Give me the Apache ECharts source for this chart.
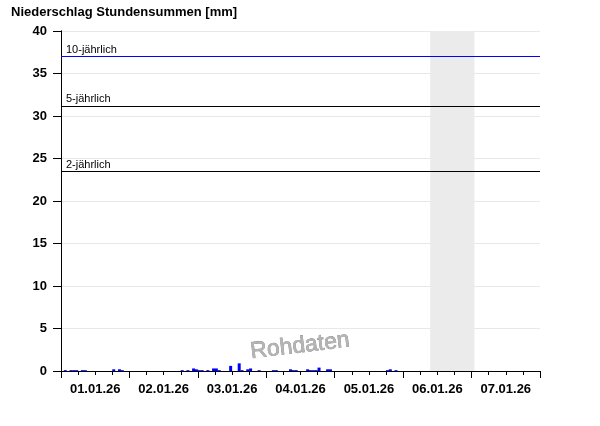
<!DOCTYPE html>
<html><head><meta charset="utf-8">
<script src="https://cdn.jsdelivr.net/npm/echarts@6/dist/echarts.min.js"></script>
<style>html,body{margin:0;padding:0;background:#fff}#c{width:600px;height:426px}</style>
</head><body><div id="c"></div>
<script>
// Hours since 01.01.26 00:00 and hourly precipitation sums [mm]
const hours = [1,3,4,5,7,8,18,20,21, 42,44,46,47, 48,49,51,53,54,55,59,62,63,65,66,69, 74,75,80,81,82,86,87,88,89,90,93,94, 114,115,117];
const values = [0.1,0.1,0.1,0.1,0.1,0.1,0.2,0.2,0.1, 0.1,0.1,0.3,0.2, 0.1,0.1,0.1,0.3,0.3,0.1,0.6,0.9,0.1,0.2,0.3,0.1, 0.1,0.1,0.2,0.1,0.1,0.2,0.1,0.1,0.1,0.4,0.2,0.2, 0.1,0.2,0.1];
const dayLabels = ['01.01.26','02.01.26','03.01.26','04.01.26','05.01.26','06.01.26','07.01.26'];
const thresholds = [{name:'10-jährlich', value:37, color:'#0000ff'},{name:'5-jährlich', value:31.2, color:'#000000'},{name:'2-jährlich', value:23.5, color:'#000000'}];
const grayBand = [129.5, 145];
const yTicks = [0,5,10,15,20,25,30,35,40];

const FONT = 'Liberation Sans, Arial, sans-serif';
const chart = echarts.init(document.getElementById('c'), null, {renderer:'canvas'});
const barData = hours.map((h,i)=>[h+0.5, values[i]]);
chart.setOption({
  animation:false,
  title:{text:'Niederschlag Stundensummen [mm]', left:6, top:1, textStyle:{fontFamily:FONT, fontSize:13, fontWeight:'bold', color:'#000'}},
  grid:{left:61, right:60, top:31, bottom:55},
  xAxis:[{
    type:'value', min:0, max:168, interval:6,
    axisLine:{show:true, lineStyle:{color:'#000', width:1}},
    axisTick:{show:true, length:4, lineStyle:{color:'#000'}},
    splitLine:{show:false},
    axisLabel:{margin:12, fontFamily:FONT, fontSize:13, fontWeight:'bold', color:'#000',
      formatter:v=> (v%24===12) ? dayLabels[(v-12)/24] : ''}
  },{
    type:'value', min:0, max:168, interval:24, position:'bottom',
    axisLine:{show:false}, axisTick:{show:true, length:7, lineStyle:{color:'#000'}},
    axisLabel:{show:false}, splitLine:{show:false}
  }],
  yAxis:[{
    type:'value', min:yTicks[0], max:yTicks[yTicks.length-1], interval:5,
    axisLine:{show:true, lineStyle:{color:'#000'}},
    axisTick:{show:true, length:8, lineStyle:{color:'#000'}},
    splitLine:{show:true, lineStyle:{color:'#e8e8e8', width:1}},
    axisLabel:{margin:14, fontFamily:FONT, fontSize:13, fontWeight:'bold', color:'#000'}
  },{
    type:'value', min:0, max:40, position:'right',
    axisLine:{show:true, lineStyle:{color:'#000'}}, axisTick:{show:false}, axisLabel:{show:false}, splitLine:{show:false}
  }],
  series:[{
    type:'bar', data:barData, barWidth:3, itemStyle:{color:'#0000ff'},
    markArea:{silent:true, itemStyle:{color:'#ebebeb'}, data:[[{xAxis:grayBand[0]},{xAxis:grayBand[1]}]]},
    markLine:{silent:true, symbol:'none',
      data: thresholds.map(t=>({yAxis:t.value, lineStyle:{color:t.color, width:1, type:'solid'},
        label:{show:true, formatter:t.name, position:'insideStartTop', distance:[5,1], color:'#000', fontFamily:FONT, fontSize:11}}))}
  }],
  graphic:[{type:'text', x:300, y:346, rotation:0.12,
    style:{text:'Rohdaten', fontFamily:FONT, fontSize:23, fill:'#b4b4b4', stroke:'#7a7a7a', lineWidth:0.6, textAlign:'center', textVerticalAlign:'middle'}}]
});
</script></body></html>
